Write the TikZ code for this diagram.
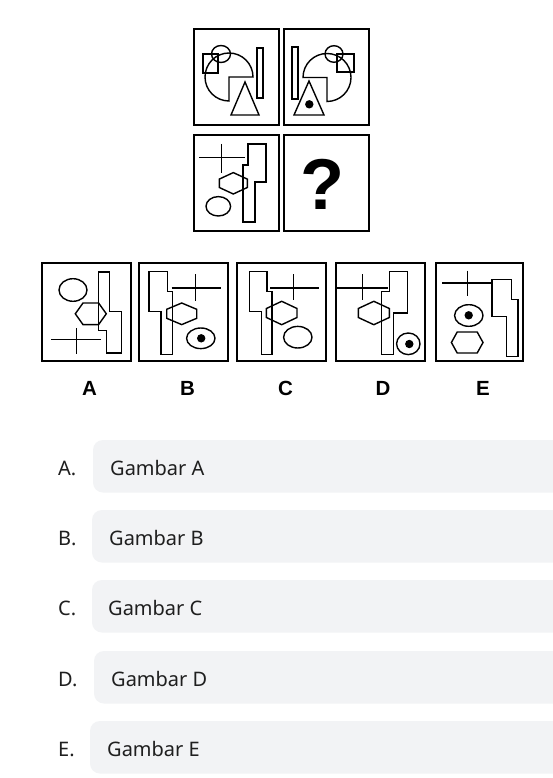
\documentclass[tikz,border=0pt]{standalone}
\usepackage{fontspec}
\setmainfont{Noto Sans}
\newfontfamily\arialf{Liberation Sans}
\definecolor{optgray}{HTML}{F2F3F5}
\definecolor{txt}{HTML}{1F1F1F}
\newcommand\hexV[5]{\draw[shp] (#1,#2) ++(-#3,-#5) -- ++(#3,#5-#4) -- ++(#3,#4-#5) -- ++(0,2*#5) -- ++(-#3,#4-#5) -- ++(-#3,#5-#4) -- cycle;}
\newcommand\hexH[5]{\draw[shp] (#1,#2) ++(-#3,0) -- ++(#3-#5,-#4) -- ++(2*#5,0) -- ++(#3-#5,#4) -- ++(#5-#3,#4) -- ++(-2*#5,0) -- cycle;}
\tikzset{
  frame/.style={line width=2pt, draw=black},
  shp/.style={line width=1.4pt, draw=black, line join=miter},
  blackdot/.style={fill=black},
  opbox/.style={fill=optgray, rounded corners=10pt},
  optlabel/.style={font=\fontsize{20}{24}\selectfont, text=txt, anchor=base west, inner sep=0pt},
  letterlab/.style={font=\arialf\bfseries\fontsize{20.5}{24}\selectfont, inner sep=0pt, anchor=center}
}
\begin{document}
\begin{tikzpicture}[x=1pt,y=-1pt]
\useasboundingbox (0,0) rectangle (553,778);
\fill[white] (0,0) rectangle (553,778);

% ---------- top puzzle ----------
\draw[frame] (193.5,29.5) rectangle (279,125.5);
\draw[frame] (283.5,29.5) rectangle (369,125.5);
\draw[frame] (193.5,135) rectangle (279,231);
\draw[frame] (283.5,135) rectangle (369,231);

% box 1
\draw[shp] (203,54) rectangle (218,73);
\draw[shp] (221,54) ellipse [x radius=9.5pt, y radius=8.5pt];
\draw[shp] (229,77) -- (253,77) arc[start angle=0, end angle=270, radius=24pt] -- cycle;
\draw[shp] (231,115) -- (259,115) -- (245,82) -- cycle;
\draw[shp] (257,48) rectangle (263,98);

% box 2
\draw[shp] (292,47) rectangle (298,99);
\draw[shp] (327,77.5) -- (327,101.5) arc[start angle=-90, end angle=180, radius=24pt] -- cycle;
\draw[shp] (334,54) ellipse [x radius=9pt, y radius=8.3pt];
\draw[shp] (337,54) rectangle (354,72);
\draw[shp] (294,115) -- (324,115) -- (309,81) -- cycle;
\fill[blackdot] (309.3,104.3) circle [radius=4.2pt];

% box 3
\draw[shp] (199.3,157.3) -- (245,157.3);
\draw[shp] (221.7,144) -- (221.7,173.3);
\draw[shp] (248,144) -- (266,144) -- (266,182) -- (255,182) -- (255,222) -- (243,222) -- (243,165) -- (248,165) -- cycle;
\hexV{233.3}{183.3}{14}{10.7}{4.2}
\draw[shp] (218.3,206.3) ellipse [x radius=12.3pt, y radius=9.7pt];

% box 4
\node[font=\arialf\bfseries\fontsize{72}{72}\selectfont, inner sep=0pt] (qm) at (322.5,184) {?};

% ---------- answer figures ----------
\draw[frame] (42,263) rectangle (131,361);
\draw[frame] (139,263) rectangle (228,361);
\draw[frame] (237,263) rectangle (326,361);
\draw[frame] (336,263) rectangle (425,361);
\draw[frame] (436,263) rectangle (523,361);

% A
\draw[shp] (73,290) ellipse [x radius=14pt, y radius=11.3pt];
\hexH{90.8}{313.8}{15.5}{10.8}{7.8}
\draw[shp] (98.7,272) -- (109.7,272) -- (109.7,311.3) -- (121.3,311.3) -- (121.3,353) -- (106.3,353) -- (106.3,330.7) -- (98.7,330.7) -- cycle;
\draw[shp] (51.3,339.7) -- (100.7,339.7);
\draw[shp] (76.3,328) -- (76.3,354);

% B
\draw[shp] (149,271.3) -- (167.7,271.3) -- (167.7,291.3) -- (172.3,291.3) -- (172.3,354.7) -- (161,354.7) -- (161,311.3) -- (149,311.3) -- cycle;
\draw[shp] (171.7,288) -- (221,288);
\draw[shp] (195.7,274) -- (195.7,300.7);
\hexV{181.7}{313.8}{15}{10.8}{4.5}
\draw[shp] (200.8,338.3) ellipse [x radius=14.2pt, y radius=10.3pt];
\fill[blackdot] (201.2,338.3) circle [radius=4.2pt];

% C
\draw[shp] (249.3,271.3) -- (267,271.3) -- (267,291.3) -- (272,291.3) -- (272,354.7) -- (261.3,354.7) -- (261.3,311.3) -- (249.3,311.3) -- cycle;
\draw[shp] (270.3,288) -- (319.3,288);
\draw[shp] (293.7,274) -- (293.7,299.7);
\hexV{281.7}{313}{15.3}{11.7}{4.5}
\draw[shp] (297.8,337.2) ellipse [x radius=14.2pt, y radius=10.8pt];

% D
\draw[shp] (337.3,288) -- (388.3,288);
\draw[shp] (362.7,274) -- (362.7,299.7);
\draw[shp] (389.3,271.3) -- (407.3,271.3) -- (407.3,313) -- (393.3,313) -- (393.3,354.7) -- (381.7,354.7) -- (381.7,291.3) -- (389.3,291.3) -- cycle;
\hexV{373.8}{313}{15.5}{11.7}{4.5}
\draw[shp] (408.3,343.8) ellipse [x radius=11.7pt, y radius=10.8pt];
\fill[blackdot] (409.3,344) circle [radius=4.2pt];

% E
\draw[shp] (442,283) -- (492,283);
\draw[shp] (467.3,270.7) -- (467.3,296.3);
\draw[shp] (492,279.7) -- (511.3,279.7) -- (511.3,299.7) -- (518,299.7) -- (518,356.3) -- (506.3,356.3) -- (506.3,316.3) -- (492,316.3) -- cycle;
\draw[shp] (468.8,315.5) ellipse [x radius=14.2pt, y radius=10.8pt];
\fill[blackdot] (468.7,315.3) circle [radius=4.2pt];
\hexH{467.2}{342.5}{15.8}{10.5}{10}

% letters
\node[letterlab] (la) at (89.5,388) {A};
\node[letterlab] (lb) at (187.5,388) {B};
\node[letterlab] (lc) at (285.5,388) {C};
\node[letterlab] (ld) at (383,388) {D};
\node[letterlab] (le) at (483,388) {E};

% ---------- options ----------
\begin{scope}
\clip (0,0) rectangle (553,778);
\fill[opbox] (93,440) rectangle (580,492.5);
\fill[opbox] (92,510) rectangle (580,562.5);
\fill[opbox] (92,580) rectangle (580,632.5);
\fill[opbox] (94,651) rectangle (580,703.5);
\fill[opbox] (90,721) rectangle (580,773.5);
\end{scope}
\node[optlabel] (oa) at (58,475.7) {A.};
\node[optlabel] (ga) at (110,475.7) {Gambar A};
\node[optlabel] (ob) at (58,545.7) {B.};
\node[optlabel] (gb) at (109,545.7) {Gambar B};
\node[optlabel] (oc) at (58,615.7) {C.};
\node[optlabel] (gc) at (108,615.7) {Gambar C};
\node[optlabel] (od) at (58,686.7) {D.};
\node[optlabel] (gd) at (111,686.7) {Gambar D};
\node[optlabel] (oe) at (58,756.7) {E.};
\node[optlabel] (ge) at (107,756.7) {Gambar E};
\end{tikzpicture}
\end{document}
